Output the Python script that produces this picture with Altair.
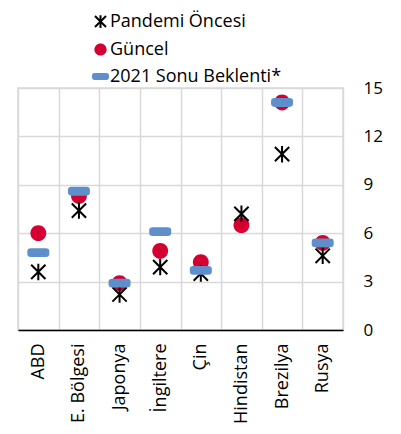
import altair as alt
import pandas as pd

countries = ["ABD", "E. Bölgesi", "Japonya", "İngiltere", "Çin", "Hindistan", "Brezilya", "Rusya"]
guncel = [6.0, 8.3, 2.9, 4.9, 4.2, 6.5, 14.1, 5.4]
pandemi = [3.6, 7.4, 2.2, 3.9, 3.5, 7.2, 10.9, 4.6]
beklenti = [4.8, 8.6, 2.9, 6.1, 3.7, None, 14.1, 5.4]

series = ["Pandemi Öncesi", "Güncel", "2021 Sonu Beklenti*"]

rows = []
for name, vals in [("Güncel", guncel), ("Pandemi Öncesi", pandemi), ("2021 Sonu Beklenti*", beklenti)]:
    for c, v in zip(countries, vals):
        if v is not None:
            rows.append({"ulke": c, "seri": name, "deger": v})
df = pd.DataFrame(rows)

star_path = "M-0.65,-0.65L0.65,0.65M0.65,-0.65L-0.65,0.65M0,-0.75L0,0.75"
circle_path = "M0.72,0A0.72,0.72 0 1 1 -0.72,0A0.72,0.72 0 1 1 0.72,0Z"
rect_path = ("M-0.68,-0.4L0.68,-0.4Q1,-0.4 1,-0.1L1,0.1Q1,0.4 0.68,0.4"
             "L-0.68,0.4Q-1,0.4 -1,0.1L-1,-0.1Q-1,-0.4 -0.68,-0.4Z")

RED = "#d50032"
BLUE = "#5e8fca"
FONT = "Open Sans"

leg = alt.Legend(
    title=None, orient="none", legendX=73, legendY=-76, padding=0,
    labelFontSize=18, labelFont=FONT, labelColor="black", labelLimit=400,
    symbolSize=289, symbolStrokeWidth=2, rowPadding=7, labelOffset=0,
)

chart = alt.Chart(df).mark_point(filled=True, opacity=1, size=484, strokeWidth=2).encode(
    x=alt.X("ulke:N", sort=countries, title=None,
            scale=alt.Scale(paddingInner=0, paddingOuter=0),
            axis=alt.Axis(tickBand="extent", grid=True, gridColor="#d9d9d9", gridWidth=1.5,
                          ticks=False, domainColor="black", domainWidth=1.5,
                          labelAngle=-90, labelAlign="right", labelBaseline="middle",
                          labelPadding=13, labelFontSize=18, labelFont=FONT, labelColor="black")),
    y=alt.Y("deger:Q", title=None,
            scale=alt.Scale(domain=[0, 15], nice=False),
            axis=alt.Axis(orient="right", values=[0, 3, 6, 9, 12, 15], grid=True,
                          gridColor="#d9d9d9", gridWidth=1.5, domain=False, ticks=False,
                          labelPadding=20, labelFontSize=17, labelFont=FONT, labelColor="black")),
    fill=alt.Fill("seri:N", scale=alt.Scale(domain=series, range=["black", RED, BLUE]), legend=leg),
    stroke=alt.Stroke("seri:N", scale=alt.Scale(domain=series, range=["black", "transparent", "transparent"]), legend=leg),
    shape=alt.Shape("seri:N", scale=alt.Scale(domain=series, range=[star_path, circle_path, rect_path]), legend=leg),
).properties(
    width=325, height=242,
    autosize=alt.AutoSizeParams(type="none"),
    padding={"left": 10, "top": 80, "right": 50, "bottom": 96},
).configure_view(stroke="#d9d9d9", strokeWidth=1.5)

chart.save("out.html", embed_options={"renderer": "svg", "actions": False})
